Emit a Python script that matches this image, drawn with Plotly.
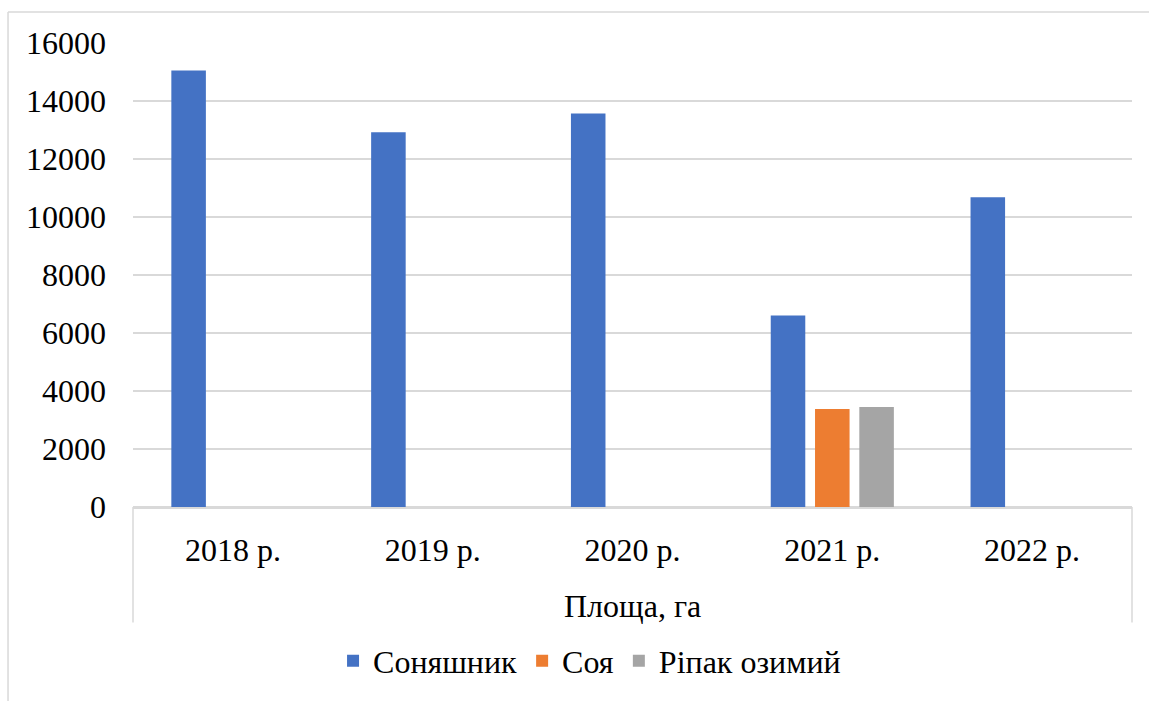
import plotly.graph_objects as go

# Sown area by crop, hectares
years = ["2018 р.", "2019 р.", "2020 р.", "2021 р.", "2022 р."]
sunflower = [15050, 12920, 13570, 6600, 10680]
soy = [None, None, None, 3380, None]
rapeseed = [None, None, None, 3450, None]

series_names = ["Соняшник", "Соя", "Ріпак озимий"]
series_colors = ["#4472C4", "#ED7D31", "#A5A5A5"]

FONT = "Liberation Serif"
GRID = "#D9D9D9"

fig = go.Figure()
for name, vals, col in zip(series_names, [sunflower, soy, rapeseed], series_colors):
    fig.add_trace(go.Bar(x=years, y=vals, name=name, marker=dict(color=col, line=dict(width=0))))

# chart frame (left and top edges) and the category-group separators
fig.add_shape(type="line", xref="paper", yref="paper", x0=-0.1251, x1=-0.1251, y0=1.067, y1=-0.45,
              line=dict(color=GRID, width=1.5))
fig.add_shape(type="line", xref="paper", yref="paper", x0=-0.1251, x1=1.05, y0=1.067, y1=1.067,
              line=dict(color=GRID, width=1.5))
for xp in (0, 1):
    fig.add_shape(type="line", xref="paper", yref="paper", x0=xp, x1=xp, y0=0, y1=-0.249,
                  line=dict(color=GRID, width=1.5))

fig.add_annotation(text="Площа, га", xref="paper", yref="paper", x=0.5, y=-0.2125,
                   xanchor="center", yanchor="middle",
                   showarrow=False, font=dict(family=FONT, size=32, color="#000000"))

fig.update_layout(
    width=1149, height=701,
    margin=dict(l=133, r=17, t=43, b=190),
    paper_bgcolor="white", plot_bgcolor="white",
    barmode="group", bargap=0.335, bargroupgap=0.22,
    font=dict(family=FONT, size=32, color="#000000"),
    showlegend=True,
    legend=dict(orientation="h", xanchor="center", x=0.457, yanchor="middle", y=-0.332,
                font=dict(family=FONT, size=32, color="#000000"), itemwidth=30),
    xaxis=dict(type="category", showgrid=False, showline=True, linecolor=GRID, linewidth=1.5,
               ticks="", ticklabelstandoff=14, tickfont=dict(family=FONT, size=32)),
    yaxis=dict(range=[0, 16000], dtick=2000, tickformat="d", showgrid=True, gridcolor=GRID,
               gridwidth=1.5, zeroline=True, zerolinecolor=GRID, zerolinewidth=1.5, showline=False,
               ticks="", ticklabelstandoff=26, tickfont=dict(family=FONT, size=32)),
)

fig.write_html("out.html")
